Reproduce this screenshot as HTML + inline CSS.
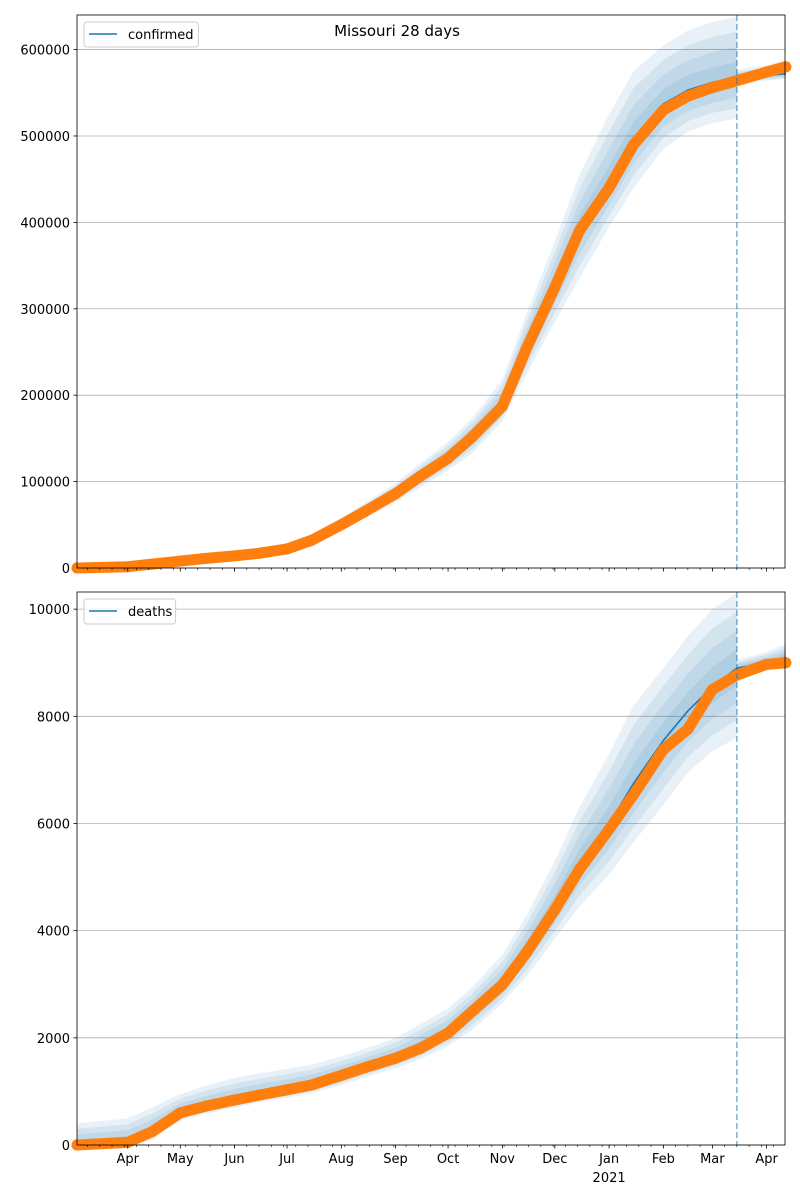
<!DOCTYPE html>
<html><head><meta charset="utf-8"><style>
body{margin:0;background:#fff;font-family:"DejaVu Sans","Liberation Sans",sans-serif}
svg text{font-family:"DejaVu Sans","Liberation Sans",sans-serif;font-size:13px;fill:#000}
</style></head><body>
<svg id="chart" width="800" height="1200" viewBox="0 0 800 1200">
<text x="397" y="36" text-anchor="middle" style="font-size:15px">Missouri 28 days</text>
</svg>
<script>
const obsDays=[0,29,43,59,73,90,104,120,134,151,165,182,196,212,226,243,257,273,287,304,318,335,349,363,377,394,405];
const modelDays=[0,29,43,59,73,90,104,120,134,151,165,182,196,212,226,243,257,273,287,304,318,335,349,363,377,377,394,405];
const confObs=[0,1500,4500,8000,11000,14000,17000,22000,32000,50000,66000,86000,106000,127000,152000,187000,255000,325000,390000,440000,490000,530000,546000,556000,564000,574000,580000];
const confModel=[0,1500,4500,8000,11000,14000,17000,22000,32000,50000,66000,86000,106000,128000,152000,190000,258000,328000,392000,445000,497000,537000,553000,562000,568000,568000,570000,572000];
const confLo=[0,0,1000,4000,7000,10000,13000,17000,25000,44000,58000,76000,93000,113000,133000,170000,225000,285000,335000,395000,440000,485000,505000,515000,520000,560000,564000,566000];
const confHi=[5000,6000,9000,13000,16000,19000,22000,28000,39000,58000,76000,98000,121000,146000,174000,218000,295000,378000,455000,525000,575000,605000,622000,632000,638000,576000,582000,588000];
const deathObs=[0,50,250,600,720,840,930,1030,1120,1300,1450,1620,1800,2090,2500,2990,3600,4390,5140,5890,6540,7380,7760,8500,8770,8970,9000];
const deathModel=[0,50,250,600,720,840,930,1030,1130,1300,1460,1640,1830,2110,2500,3000,3650,4450,5250,6000,6750,7550,8100,8550,8900,8900,9000,9100];
const deathLo=[0,0,100,450,580,700,790,880,960,1120,1270,1430,1600,1850,2150,2650,3150,3850,4450,5050,5650,6350,6950,7350,7600,8800,8900,9000];
const deathHi=[400,500,700,950,1100,1250,1340,1420,1500,1650,1800,2000,2250,2550,2950,3550,4300,5300,6300,7300,8200,8900,9500,10000,10300,9050,9200,9350];
const monthLabels=["Apr","May","Jun","Jul","Aug","Sep","Oct","Nov","Dec","Jan","Feb","Mar","Apr"];
const monthDays=[29,59,90,120,151,182,212,243,273,304,335,363,394];
const confTicks=[0,100000,200000,300000,400000,500000,600000];
const deathTicks=[0,2000,4000,6000,8000,10000];
const forecastDay=377;

const NS="http://www.w3.org/2000/svg";
const svg=document.getElementById('chart');
const X0=77,X1=785,D0=0,D1=404.5;
const xs=d=>X0+(d-D0)/(D1-D0)*(X1-X0);
function mk(tag,attrs,parent){const e=document.createElementNS(NS,tag);for(const k in attrs)e.setAttribute(k,attrs[k]);(parent||svg).appendChild(e);return e;}

function panel(name,top,bottom,ymax,ticks,obs,model,lo,hi,legend,showLabels){
  const ys=v=>bottom-v/ymax*(bottom-top);
  const g=mk('g',{});
  
  
  // grid
  ticks.forEach(t=>{
    const l=mk('line',{x1:X0,x2:X1,y1:ys(t),y2:ys(t),stroke:'#b0b0b0','stroke-width':0.8},g);
    
    
    const tk=mk('line',{x1:X0-3.5,x2:X0,y1:ys(t),y2:ys(t),stroke:'#000','stroke-width':0.8},g);
    
    
    const tx=mk('text',{x:X0-7,y:ys(t)+5,'text-anchor':'end'},g);
    tx.textContent=t;
    
    
  });
  // bands
  [1,0.75,0.5,0.25].forEach(f=>{
    let pts=[];
    for(let i=0;i<modelDays.length;i++)pts.push(xs(modelDays[i])+','+ys(model[i]+(hi[i]-model[i])*f));
    for(let i=modelDays.length-1;i>=0;i--)pts.push(xs(modelDays[i])+','+ys(model[i]-(model[i]-lo[i])*f));
    const p=mk('polygon',{points:pts.join(' '),fill:'#1f77b4','fill-opacity':0.1,stroke:'none'},g);
    
    
  });
  // model line
  const ml=mk('polyline',{points:modelDays.map((d,i)=>xs(d)+','+ys(model[i])).join(' '),fill:'none',stroke:'#1f77b4','stroke-width':1.6},g);
  
  
  // observed
  const ol=mk('polyline',{points:obsDays.map((d,i)=>xs(d)+','+ys(obs[i])).join(' '),fill:'none',stroke:'#ff7f0e','stroke-width':11,'stroke-linecap':'round','stroke-linejoin':'round'},g);
  
  
  obsDays.forEach((d,i)=>{
    const c=mk('circle',{cx:xs(d),cy:ys(obs[i]),r:5.5,fill:'#ff7f0e'},g);
    
    
  });
  // forecast line
  const fl=mk('line',{x1:xs(forecastDay),x2:xs(forecastDay),y1:top,y2:bottom,stroke:'#1f77b4','stroke-opacity':0.55,'stroke-width':1.6,'stroke-dasharray':'6,3'},g);
  
  
  // x ticks
  for(let d=6;d<D1;d+=7){
    const t=mk('line',{x1:xs(d),x2:xs(d),y1:bottom,y2:bottom+2,stroke:'#000','stroke-width':0.6},g);
    
    
  }
  monthDays.forEach((d,i)=>{
    const t=mk('line',{x1:xs(d),x2:xs(d),y1:bottom,y2:bottom+3.5,stroke:'#000','stroke-width':0.8},g);
    
    
    if(showLabels){
      const tx=mk('text',{x:xs(d),y:bottom+18,'text-anchor':'middle'},g);
      tx.textContent=monthLabels[i];
      
      
    }
  });
  if(showLabels){
    const yr=mk('text',{x:xs(304),y:bottom+37,'text-anchor':'middle'},g);
    yr.textContent='2021';
    
    
  }
  // frame
  const fr=mk('rect',{x:X0,y:top,width:X1-X0,height:bottom-top,fill:'none',stroke:'#000','stroke-width':0.8},g);
  
  
  // legend
  const lg=mk('g',{},g);
  
  
  const w=legend.length*7.6+46;
  mk('rect',{x:X0+7,y:top+7,width:w,height:25,rx:3,fill:'#fff','fill-opacity':0.8,stroke:'#ccc'},lg);
  mk('line',{x1:X0+12,x2:X0+40,y1:top+19,y2:top+19,stroke:'#1f77b4','stroke-width':1.6},lg);
  const lt=mk('text',{x:X0+51,y:top+24},lg);
  lt.textContent=legend;
  
  
}
panel('confirmed',15,568,640000/1.0,confTicks,confObs,confModel,confLo,confHi,'confirmed',false);
panel('deaths',592,1145,10320,deathTicks,deathObs,deathModel,deathLo,deathHi,'deaths',true);
</script>
</body></html>
